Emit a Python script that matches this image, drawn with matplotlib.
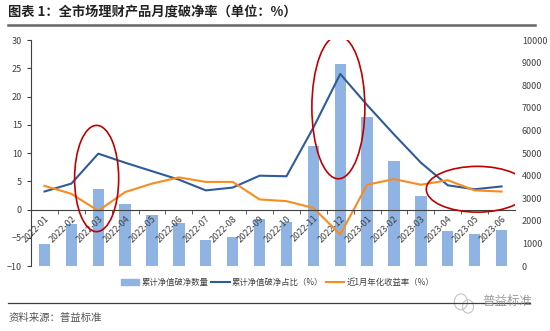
import numpy as np
import matplotlib.pyplot as plt
from matplotlib.patches import Ellipse, Patch
from matplotlib.lines import Line2D

plt.rcParams['font.family'] = ['Noto Sans CJK SC', 'DejaVu Sans']

months = ['2022-01', '2022-02', '2022-03', '2022-04', '2022-05', '2022-06',
          '2022-07', '2022-08', '2022-09', '2022-10', '2022-11', '2022-12',
          '2023-01', '2023-02', '2023-03', '2023-04', '2023-05', '2023-06']
# cumulative count of products below par (right axis)
below_par_count = [1000, 1850, 3400, 2750, 2250, 1900, 1150, 1270, 2100,
                   1950, 5300, 8950, 6600, 4650, 3100, 1550, 1400, 1600]
# share of products below par, %
below_par_ratio = [3.2, 4.6, 9.9, 8.3, 6.8, 5.3, 3.4, 3.9, 6.0,
                   5.9, 14.5, 24.0, 18.5, 13.3, 8.3, 4.3, 3.6, 4.1]
# 1-month annualised yield, %
yield_1m = [4.2, 2.8, -0.2, 3.1, 4.6, 5.7, 4.9, 4.9, 1.8,
            1.5, 0.3, -4.4, 4.4, 5.4, 4.4, 5.2, 3.4, 3.2]

blue_bar = '#8FB4E3'
blue_line = '#2E5B9A'
orange = '#F98C1F'
dark = '#404040'

fig = plt.figure(figsize=(5.5, 3.31), dpi=100)
ax = fig.add_axes([0.0564, 0.196, 0.8800, 0.683])
ax2 = ax.twinx()

x = np.arange(len(months))
ax2.bar(x, below_par_count, width=0.42, color=blue_bar, zorder=1)
ax2.set_ylim(0, 10000)
ax2.set_yticks(np.arange(0, 10001, 1000))
ax2.tick_params(axis='y', length=0, labelsize=6.5, pad=5, colors=dark)
for s in ax2.spines.values():
    s.set_visible(False)

ax.set_zorder(ax2.get_zorder() + 1)
ax.patch.set_visible(False)
ax.plot(x, below_par_ratio, color=blue_line, lw=1.5)
ax.plot(x, yield_1m, color=orange, lw=1.5)
ax.set_ylim(-10, 30)
ax.set_xlim(-0.5, len(months) - 0.5)
ax.set_yticks(np.arange(-10, 31, 5))
ax.tick_params(axis='y', labelsize=6.5, length=3, color=dark, colors=dark)

ax.spines['top'].set_visible(False)
ax.spines['right'].set_visible(False)
ax.spines['left'].set_color(dark)
ax.spines['bottom'].set_position(('data', 0))
ax.spines['bottom'].set_color(dark)

ax.set_xticks(x)
ax.set_xticklabels(months, rotation=45, ha='right', va='top',
                   rotation_mode='anchor', fontsize=6.5, color=dark)
ax.tick_params(axis='x', which='major', length=0, pad=3)
ax.set_xticks(np.arange(0.5, len(months) - 0.5, 1), minor=True)
ax.tick_params(axis='x', which='minor', length=3, color=dark)

# red highlight ellipses
for cx, cy, w, h in [(1.94, 5.5, 1.64, 18.8),
                     (10.93, 18.1, 1.97, 25.3),
                     (16.1, 3.6, 3.8, 8.1)]:
    ax.add_patch(Ellipse((cx, cy), w, h, fill=False, edgecolor='#C00000',
                         lw=1.2, zorder=5))

handles = [Patch(color=blue_bar),
           Line2D([], [], color=blue_line, lw=1.5),
           Line2D([], [], color=orange, lw=1.5)]
labels = ['累计净值破净数量', '累计净值破净占比（%）', '近1月年化收益率（%）']
fig.legend(handles, labels, loc='center', bbox_to_anchor=(0.505, 0.148),
           ncol=3, frameon=False, fontsize=6, handlelength=2.2,
           handletextpad=0.3, columnspacing=0.3, labelcolor=dark)

# header and footer
fig.text(0.015, 0.962, '图表 1：全市场理财产品月度破净率（单位：%）',
         fontsize=9.5, fontweight='bold', va='center', color='#222222')
fig.add_artist(Line2D([0.015, 0.973], [0.925, 0.925], color='#666666', lw=1.8))
fig.add_artist(Line2D([0.015, 0.963], [0.085, 0.085], color=dark, lw=0.9))
fig.text(0.015, 0.038, '资料来源：普益标准', fontsize=7.5, va='center',
         color='#555555')
# watermark
fig.add_artist(Ellipse((0.838, 0.088), 0.024, 0.048, transform=fig.transFigure,
                       fill=False, edgecolor='#c4c4c4', lw=0.8))
fig.add_artist(Ellipse((0.851, 0.074), 0.020, 0.040, transform=fig.transFigure,
                       fill=False, edgecolor='#c4c4c4', lw=0.8))
fig.text(0.967, 0.090, '普益标准', fontsize=9, va='center', ha='right',
         color='#8a8a8a', alpha=0.85)

fig.savefig('out.png', dpi=100)
